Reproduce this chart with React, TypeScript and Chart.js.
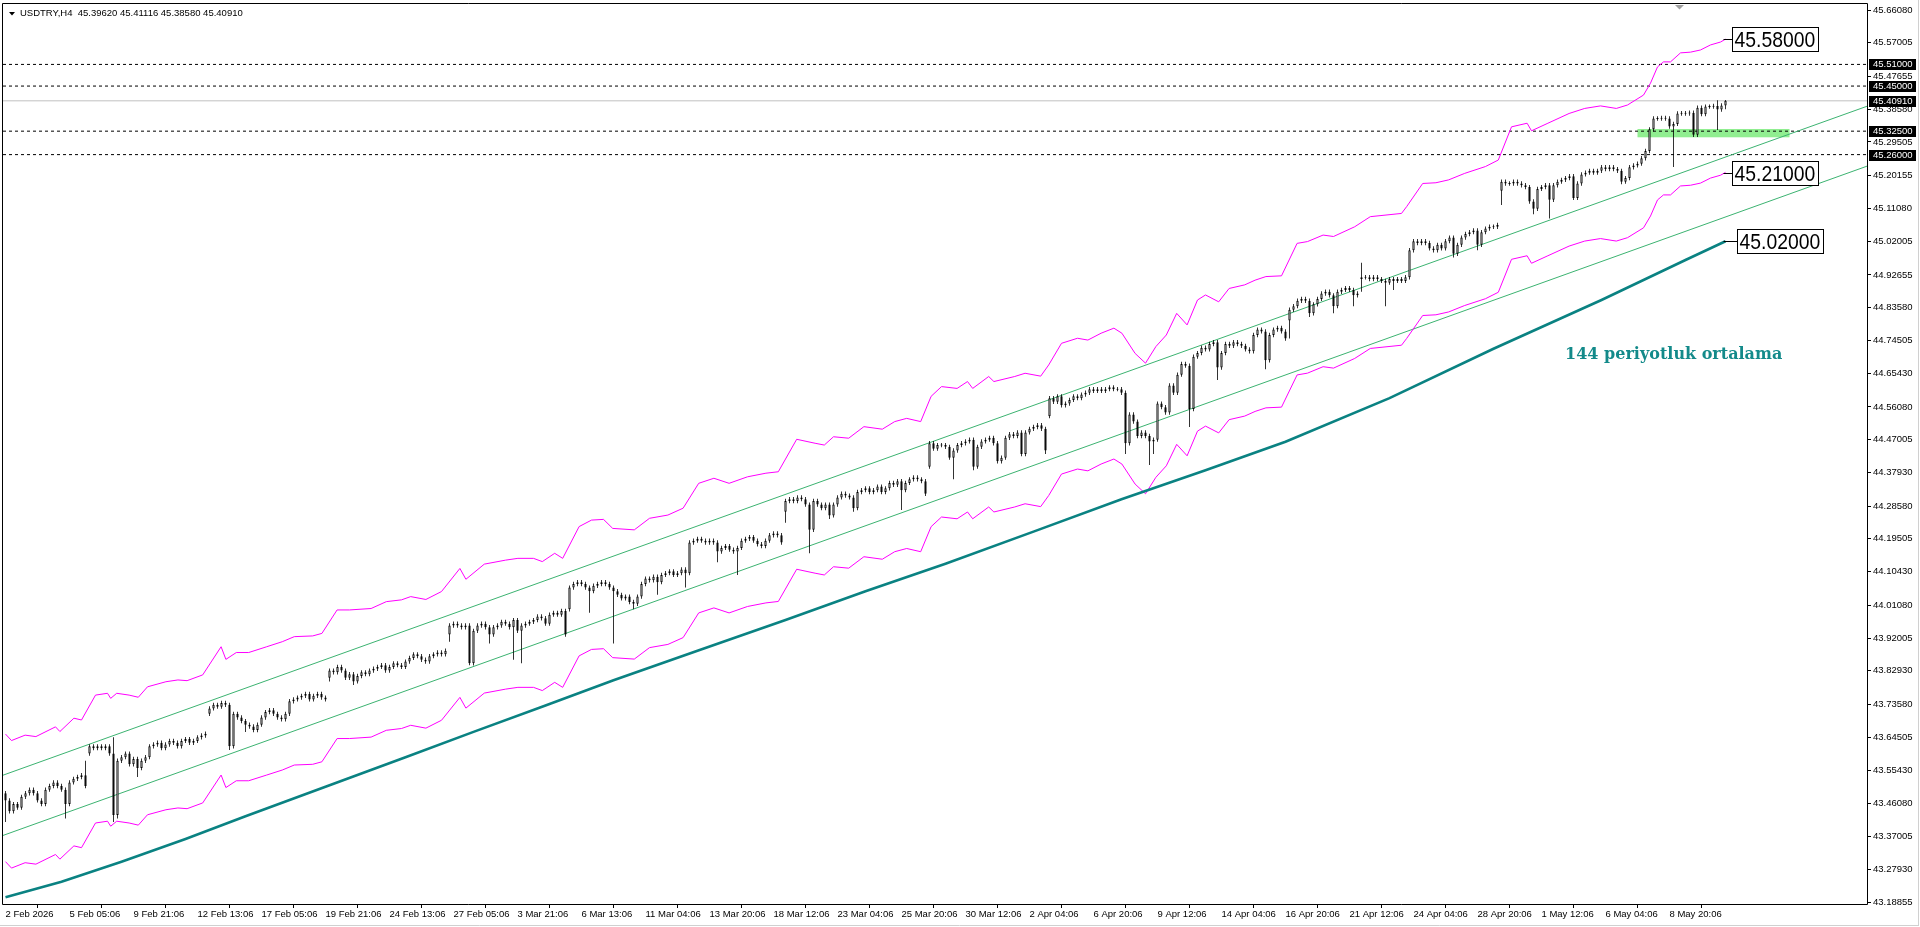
import React, { useEffect, useRef } from "react";
import { Chart, registerables } from "chart.js";

Chart.register(...registerables);

// ---------------- data ----------------
const titleText = "USDTRY,H4  45.39620 45.41116 45.38580 45.40910";

const xTickBars = [0, 16, 32, 48, 64, 80, 96, 112, 128, 144, 160, 176, 192, 208, 224, 240, 256, 272, 288, 304, 320, 336, 352, 368, 384, 400, 416];
const xTickLabels = ["2 Feb 2026", "5 Feb 05:06", "9 Feb 21:06", "12 Feb 13:06", "17 Feb 05:06", "19 Feb 21:06", "24 Feb 13:06", "27 Feb 05:06", "3 Mar 21:06", "6 Mar 13:06", "11 Mar 04:06", "13 Mar 20:06", "18 Mar 12:06", "23 Mar 04:06", "25 Mar 20:06", "30 Mar 12:06", "2 Apr 04:06", "6 Apr 20:06", "9 Apr 12:06", "14 Apr 04:06", "16 Apr 20:06", "21 Apr 12:06", "24 Apr 04:06", "28 Apr 20:06", "1 May 12:06", "6 May 04:06", "8 May 20:06"];

const yTickValues = [45.6608, 45.57005, 45.47655, 45.3858, 45.29505, 45.20155, 45.1108, 45.02005, 44.92655, 44.8358, 44.74505, 44.6543, 44.5608, 44.47005, 44.3793, 44.2858, 44.19505, 44.1043, 44.0108, 43.92005, 43.8293, 43.7358, 43.64505, 43.5543, 43.4608, 43.37005, 43.2793, 43.18855];

const firstOpen = 43.49;
const closes = [
  43.47, 43.44, 43.46, 43.45, 43.48, 43.49, 43.50, 43.49, 43.47, 43.46,
  43.50, 43.51, 43.52, 43.51, 43.50, 43.46, 43.52, 43.53, 43.535, 43.54,
  43.51, 43.62, 43.615, 43.62, 43.615, 43.62, 43.60, 43.43, 43.58, 43.59,
  43.60, 43.57, 43.585, 43.56, 43.58, 43.59, 43.62, 43.625, 43.63, 43.615,
  43.625, 43.635, 43.63, 43.62, 43.635, 43.64, 43.63, 43.635, 43.645, 43.65,
  43.655, 43.725, 43.735, 43.73, 43.74, 43.735, 43.62, 43.71, 43.70, 43.69,
  43.68, 43.675, 43.665, 43.68, 43.70, 43.715, 43.72, 43.71, 43.70, 43.695,
  43.71, 43.745, 43.75, 43.755, 43.76, 43.765, 43.75, 43.76, 43.765, 43.755,
  43.75, 43.83, 43.825, 43.84, 43.83, 43.81, 43.82, 43.80, 43.815, 43.825,
  43.82, 43.83, 43.835, 43.84, 43.845, 43.83, 43.84, 43.85, 43.845, 43.84,
  43.855, 43.865, 43.875, 43.87, 43.86, 43.855, 43.87, 43.875, 43.88, 43.875,
  43.885, 43.955, 43.96, 43.955, 43.95, 43.955, 43.85, 43.94, 43.955, 43.96,
  43.95, 43.93, 43.95, 43.955, 43.965, 43.96, 43.95, 43.97, 43.94, 43.955,
  43.96, 43.965, 43.97, 43.98, 43.975, 43.96, 43.985, 43.99, 43.985, 43.995,
  43.93, 44.06, 44.07, 44.075, 44.07, 44.06, 44.05, 44.065, 44.07, 44.075,
  44.07, 44.06, 44.05, 44.04, 44.03, 44.035, 44.02, 44.015, 44.035, 44.07,
  44.085, 44.08, 44.09, 44.075, 44.095, 44.10, 44.105, 44.095, 44.10, 44.11,
  44.10, 44.185, 44.19, 44.195, 44.19, 44.185, 44.19, 44.185, 44.16, 44.17,
  44.175, 44.165, 44.16, 44.17, 44.19, 44.195, 44.20, 44.19, 44.18, 44.175,
  44.19, 44.205, 44.21, 44.205, 44.185, 44.30, 44.305, 44.30, 44.31, 44.305,
  44.29, 44.22, 44.30, 44.29, 44.28, 44.29, 44.26, 44.29, 44.31, 44.32,
  44.315, 44.31, 44.28, 44.325, 44.33, 44.335, 44.325, 44.33, 44.34, 44.325,
  44.335, 44.35, 44.345, 44.355, 44.33, 44.35, 44.36, 44.365, 44.36, 44.355,
  44.32, 44.46, 44.445, 44.455, 44.455, 44.45, 44.42, 44.44, 44.455, 44.46,
  44.465, 44.47, 44.395, 44.45, 44.465, 44.47, 44.475, 44.46, 44.41, 44.42,
  44.475, 44.485, 44.48, 44.49, 44.43, 44.49, 44.50, 44.505, 44.51, 44.50,
  44.44, 44.585, 44.575, 44.59, 44.565, 44.57, 44.58, 44.59, 44.585, 44.595,
  44.60, 44.61, 44.605, 44.61, 44.605, 44.61, 44.615, 44.61, 44.61, 44.60,
  44.46, 44.54, 44.52, 44.48, 44.49, 44.48, 44.465, 44.47, 44.57, 44.56,
  44.545, 44.62, 44.60, 44.65, 44.68, 44.675, 44.555, 44.70, 44.71, 44.725,
  44.72, 44.735, 44.74, 44.67, 44.71, 44.735, 44.73, 44.74, 44.735, 44.73,
  44.72, 44.715, 44.76, 44.775, 44.77, 44.69, 44.76, 44.775, 44.78, 44.77,
  44.75, 44.83, 44.84, 44.855, 44.86, 44.855, 44.82, 44.845, 44.86, 44.875,
  44.88, 44.87, 44.84, 44.88, 44.885, 44.89, 44.885, 44.87, 44.875, 44.92,
  44.92, 44.915, 44.92, 44.915, 44.91, 44.905, 44.915, 44.91, 44.915, 44.91,
  44.92, 44.995, 45.02, 45.015, 45.02, 45.015, 45.00, 44.995, 45.01, 45.00,
  45.02, 45.03, 44.985, 45.01, 45.03, 45.04, 45.045, 45.05, 45.01, 45.045,
  45.055, 45.06, 45.06, 45.065, 45.185, 45.18, 45.18, 45.185, 45.18, 45.175,
  45.17, 45.13, 45.11, 45.165, 45.17, 45.175, 45.135, 45.175, 45.185, 45.19,
  45.195, 45.20, 45.14, 45.18, 45.205, 45.21, 45.215, 45.21, 45.215, 45.225,
  45.22, 45.225, 45.22, 45.215, 45.185, 45.195, 45.225, 45.23, 45.235, 45.25,
  45.27, 45.33, 45.36, 45.36, 45.362, 45.36, 45.338, 45.345, 45.374, 45.375,
  45.374, 45.376, 45.315, 45.39, 45.372, 45.393, 45.393, 45.395, 45.385, 45.3962,
  45.4091,
];

const gapOpenBars = [21, 51, 81, 111, 141, 195, 231, 261, 321, 339, 374];
const gapOpenValues = [43.60, 43.71, 43.81, 43.93, 44.00, 44.27, 44.395, 44.535, 44.80, 44.915, 45.16];

const wickLowBars = [0, 15, 27, 28, 33, 56, 60, 81, 87, 111, 116, 121, 127, 129, 146, 152, 157, 163, 170, 178, 183, 195, 201, 206, 212, 224, 237, 242, 260, 280, 286, 287, 296, 303, 315, 321, 326, 332, 337, 339, 345, 347, 362, 368, 374, 382, 386, 404, 417, 428, 430];
const wickLowValues = [43.41, 43.42, 43.41, 43.42, 43.535, 43.61, 43.66, 43.80, 43.79, 43.91, 43.845, 43.905, 43.86, 43.85, 43.99, 43.905, 44.0, 44.04, 44.06, 44.13, 44.095, 44.24, 44.155, 44.25, 44.27, 44.275, 44.36, 44.385, 44.43, 44.43, 44.40, 44.43, 44.505, 44.635, 44.665, 44.75, 44.81, 44.82, 44.84, 44.88, 44.84, 44.885, 44.975, 44.995, 45.12, 45.095, 45.083, 45.178, 45.226, 45.328, 45.3858];
const wickHighBars = [20, 27, 339, 428, 430];
const wickHighValues = [43.58, 43.645, 44.96, 45.411, 45.41116];

const maBars = [0, 14, 29, 45, 60, 80, 100, 117, 135, 152, 173, 195, 215, 235, 257, 279, 300, 320, 346, 372, 399, 420, 430];
const maValues = [43.202, 43.245, 43.300, 43.363, 43.426, 43.508, 43.590, 43.660, 43.733, 43.803, 43.885, 43.970, 44.050, 44.126, 44.215, 44.305, 44.385, 44.464, 44.585, 44.722, 44.857, 44.968, 45.02];

const envUpperBars = [0, 1.5, 4.9, 7.6, 12.5, 13.6, 17.1, 19, 22.5, 25.5, 26.3, 27.8, 30.9, 33.2, 35.5, 40.1, 43.1, 45.4, 49.3, 53.9, 55.1, 57.7, 60.8, 65.3, 69.2, 72.2, 76.8, 79.1, 82.9, 86, 91.4, 95.2, 99, 101.3, 105.1, 109, 113.6, 115.1, 119.7, 125, 128.1, 132, 134.2, 137.3, 139.3, 143.4, 146.5, 149.5, 151.8, 157.2, 161, 165.6, 169.4, 173.3, 177.1, 180.9, 185.5, 190.1, 193.2, 197.8, 202.4, 204.7, 207, 210.8, 214.6, 219.2, 222.3, 225.3, 228.8, 231.4, 234, 237.9, 240.5, 241.8, 245.8, 247.1, 252.3, 254.9, 258.8, 260.8, 264, 268, 270.6, 273.9, 277.1, 279.1, 282.4, 285, 287.6, 290.2, 292.8, 295.4, 298, 300, 303.3, 305.9, 309.8, 312.4, 315.1, 319, 322.9, 325.5, 329.4, 332, 337.3, 341.2, 349, 350.3, 354.3, 357.6, 360.8, 364.8, 370, 373.2, 376.5, 380.4, 381.5, 385.6, 390.9, 394.8, 398.75, 402.7, 405.5, 409.5, 411.25, 413, 414.5, 416.25, 418.75, 421.25, 423.75, 426.25, 428.75, 430];
const envUpperValues = [43.654, 43.636, 43.651, 43.647, 43.674, 43.661, 43.698, 43.693, 43.762, 43.767, 43.753, 43.767, 43.762, 43.756, 43.785, 43.799, 43.804, 43.802, 43.818, 43.896, 43.861, 43.880, 43.880, 43.896, 43.910, 43.924, 43.926, 43.933, 43.998, 43.998, 44.002, 44.021, 44.026, 44.035, 44.027, 44.049, 44.113, 44.083, 44.125, 44.136, 44.141, 44.141, 44.132, 44.155, 44.141, 44.229, 44.247, 44.249, 44.224, 44.220, 44.252, 44.261, 44.280, 44.349, 44.363, 44.349, 44.367, 44.377, 44.381, 44.471, 44.460, 44.455, 44.478, 44.474, 44.506, 44.499, 44.520, 44.529, 44.520, 44.590, 44.617, 44.612, 44.631, 44.612, 44.645, 44.631, 44.645, 44.654, 44.646, 44.677, 44.737, 44.751, 44.746, 44.765, 44.779, 44.765, 44.709, 44.682, 44.728, 44.760, 44.820, 44.788, 44.857, 44.871, 44.852, 44.889, 44.899, 44.912, 44.922, 44.924, 45.014, 45.019, 45.037, 45.033, 45.060, 45.088, 45.097, 45.116, 45.180, 45.182, 45.190, 45.208, 45.227, 45.245, 45.337, 45.347, 45.326, 45.347, 45.374, 45.388, 45.395, 45.388, 45.3975, 45.425, 45.458, 45.503, 45.517, 45.517, 45.542, 45.544, 45.550, 45.564, 45.572, 45.580];
const envelopeBandFraction = 0.0081; // lower band sits this fraction below the upper band

const channelBars = [-0.625, 465.375];
const channelUpper = [43.540, 45.394];
const channelLower = [43.373, 45.228];

const dashedLevels = [45.51, 45.45, 45.325, 45.26];
const lastPrice = 45.4091;
const axisMarks = [45.51, 45.45, 45.4091, 45.325, 45.26];

const zoneBars = [408, 446];
const zonePrices = [45.308, 45.331];

const calloutValues = [45.58, 45.21, 45.02];
const calloutFromBars = [429.5, 429.5, 429.5];
const calloutBoxBars = [431.6, 431.6, 432.9];
const calloutTexts = ["45.58000", "45.21000", "45.02000"];

const maNote = "144 periyotluk ortalama";
const maNoteBar = 389.9;
const maNotePrice = 44.705;

// ---------------- layout constants ----------------
const X_MIN = -0.625;
const X_MAX = 465.375;
const Y_MIN = 43.18301;
const Y_MAX = 45.67743;
const FONT = "'Liberation Sans', Arial, sans-serif";
const DEFAULT_WICK = 0.006;
const MIN_BODY = 0.0028;

const opens = closes.map((c, i) => {
  const g = gapOpenBars.indexOf(i);
  if (g >= 0) return gapOpenValues[g];
  return i === 0 ? firstOpen : closes[i - 1];
});
const highs = closes.map((c, i) => {
  const k = wickHighBars.indexOf(i);
  return k >= 0 ? wickHighValues[k] : Math.max(opens[i], c) + DEFAULT_WICK;
});
const lows = closes.map((c, i) => {
  const k = wickLowBars.indexOf(i);
  return k >= 0 ? wickLowValues[k] : Math.min(opens[i], c) - DEFAULT_WICK;
});

const bodyData = closes.map((c, i) => {
  let lo = Math.min(opens[i], c);
  let hi = Math.max(opens[i], c);
  if (hi - lo < MIN_BODY) {
    const m = (hi + lo) / 2;
    lo = m - MIN_BODY / 2;
    hi = m + MIN_BODY / 2;
  }
  return { x: i, y: [lo, hi] };
});
const wickData = closes.map((c, i) => ({ x: i, y: [lows[i], highs[i]] }));
const maData = maBars.map((b, i) => ({ x: b, y: maValues[i] }));
const envUpperData = envUpperBars.map((b, i) => ({ x: b, y: envUpperValues[i] }));
const envLowerData = envUpperBars.map((b, i) => ({ x: b, y: envUpperValues[i] * (1 - envelopeBandFraction) }));

const hLine = (v: number) => [{ x: X_MIN, y: v }, { x: X_MAX, y: v }];

const overlayPlugin = {
  id: "mtOverlay",
  beforeDraw(chart: any) {
    const ctx = chart.ctx;
    ctx.save();
    ctx.fillStyle = "#ffffff";
    ctx.fillRect(0, 0, chart.width, chart.height);
    ctx.restore();
  },
  beforeDatasetsDraw(chart: any) {
    const { ctx, scales } = chart;
    const x = scales.x, y = scales.y;
    ctx.save();
    ctx.fillStyle = "#90EE90";
    const x0 = x.getPixelForValue(zoneBars[0]);
    const x1 = x.getPixelForValue(zoneBars[1]);
    const y0 = y.getPixelForValue(zonePrices[1]);
    const y1 = y.getPixelForValue(zonePrices[0]);
    ctx.fillRect(x0, y0, x1 - x0, y1 - y0);
    ctx.restore();
  },
  afterDatasetsDraw(chart: any) {
    const { ctx, scales } = chart;
    const x = scales.x, y = scales.y;
    ctx.save();
    calloutValues.forEach((v, i) => {
      const yp = Math.round(y.getPixelForValue(v)) + 0.5;
      const xf = x.getPixelForValue(calloutFromBars[i]);
      const xb = Math.round(x.getPixelForValue(calloutBoxBars[i])) + 0.5;
      ctx.strokeStyle = "#000";
      ctx.lineWidth = 1;
      ctx.beginPath();
      ctx.moveTo(xf, yp);
      ctx.lineTo(xb, yp);
      ctx.stroke();
      ctx.fillStyle = "#fff";
      ctx.fillRect(xb, yp - 12, 86, 24);
      ctx.strokeRect(xb, yp - 12, 86, 24);
      ctx.save();
      ctx.translate(xb + 2, yp + 1);
      ctx.scale(0.88, 1);
      ctx.fillStyle = "#000";
      ctx.font = `22px ${FONT}`;
      ctx.textBaseline = "middle";
      ctx.textAlign = "left";
      ctx.fillText(calloutTexts[i], 0, 0);
      ctx.restore();
    });
    ctx.fillStyle = "#138a8a";
    ctx.font = "bold 16px 'DejaVu Serif', serif";
    ctx.textBaseline = "middle";
    ctx.textAlign = "left";
    ctx.fillText(maNote, x.getPixelForValue(maNoteBar), y.getPixelForValue(maNotePrice));
    ctx.restore();
  },
  afterDraw(chart: any) {
    const { ctx, scales, chartArea } = chart;
    const y = scales.y;
    ctx.save();
    ctx.strokeStyle = "#000";
    ctx.lineWidth = 1;
    ctx.beginPath();
    ctx.moveTo(chartArea.left - 0.5, chartArea.top - 0.5);
    ctx.lineTo(chartArea.right + 0.5, chartArea.top - 0.5);
    ctx.lineTo(chartArea.right + 0.5, chartArea.bottom + 0.5);
    ctx.lineTo(chartArea.left - 0.5, chartArea.bottom + 0.5);
    ctx.closePath();
    ctx.stroke();
    ctx.strokeStyle = "#d0d0d0";
    ctx.beginPath();
    ctx.moveTo(1918.5, 0);
    ctx.lineTo(1918.5, 926);
    ctx.moveTo(0, 925.5);
    ctx.lineTo(1919, 925.5);
    ctx.stroke();
    ctx.font = `9.5px ${FONT}`;
    ctx.textBaseline = "middle";
    ctx.textAlign = "left";
    axisMarks.forEach((v) => {
      const yp = Math.round(y.getPixelForValue(v));
      ctx.fillStyle = "#000";
      ctx.fillRect(chartArea.right + 2, yp - 5, 47, 11);
      ctx.fillStyle = "#fff";
      ctx.fillText(v.toFixed(5), chartArea.right + 6, yp + 0.5);
    });
    ctx.fillStyle = "#000";
    ctx.beginPath();
    ctx.moveTo(9, 12);
    ctx.lineTo(15, 12);
    ctx.lineTo(12, 15.5);
    ctx.closePath();
    ctx.fill();
    ctx.font = `9.5px ${FONT}`;
    ctx.textBaseline = "alphabetic";
    ctx.fillText(titleText, 20, 16);
    ctx.fillStyle = "#a0a0a0";
    ctx.beginPath();
    ctx.moveTo(1675, 5);
    ctx.lineTo(1684, 5);
    ctx.lineTo(1679.5, 9.5);
    ctx.closePath();
    ctx.fill();
    ctx.restore();
  },
};

export default function App() {
  const ref = useRef<HTMLCanvasElement | null>(null);

  useEffect(() => {
    document.body.style.margin = "0";
    const canvas = ref.current;
    if (!canvas) return;
    const lineBase = { type: "line", pointRadius: 0, tension: 0, fill: false };
    const chart = new Chart(canvas, {
      type: "bar",
      data: {
        datasets: [
          {
            type: "bar",
            label: "body",
            data: bodyData,
            backgroundColor: (c: any) => {
              const i = c.dataIndex;
              if (i === undefined) return "#fff";
              return closes[i] >= opens[i] ? "#ffffff" : "#000000";
            },
            borderColor: "#000000",
            borderWidth: 1,
            borderSkipped: false,
            grouped: false,
            barPercentage: 0.75,
            maxBarThickness: 3,
            inflateAmount: 0,
            order: 0,
          },
          {
            type: "bar",
            label: "wick",
            data: wickData,
            backgroundColor: "#000000",
            borderWidth: 0,
            grouped: false,
            barPercentage: 0.25,
            maxBarThickness: 1,
            inflateAmount: 0,
            order: 1,
          },
          { ...lineBase, label: "MA144", data: maData, borderColor: "#0a8282", borderWidth: 2.6, order: 3 },
          { ...lineBase, label: "envUpper", data: envUpperData, borderColor: "#ff00ff", borderWidth: 1, order: 3 },
          { ...lineBase, label: "envLower", data: envLowerData, borderColor: "#ff00ff", borderWidth: 1, order: 3 },
          { ...lineBase, label: "chanUpper", data: channelBars.map((b, i) => ({ x: b, y: channelUpper[i] })), borderColor: "#3cb371", borderWidth: 1, order: 4 },
          { ...lineBase, label: "chanLower", data: channelBars.map((b, i) => ({ x: b, y: channelLower[i] })), borderColor: "#3cb371", borderWidth: 1, order: 4 },
          ...dashedLevels.map((v) => ({ ...lineBase, label: "lvl" + v, data: hLine(v), borderColor: "#000000", borderWidth: 1, borderDash: [3, 3], order: 5 })),
          { ...lineBase, label: "last", data: hLine(lastPrice), borderColor: "#c0c0c0", borderWidth: 1, order: 6 },
        ] as any,
      },
      options: {
        responsive: false,
        maintainAspectRatio: false,
        animation: false,
        devicePixelRatio: 1,
        events: [],
        layout: { padding: { left: 3, top: 4, right: 0, bottom: 0 }, autoPadding: false },
        plugins: { legend: { display: false }, tooltip: { enabled: false } },
        scales: {
          x: {
            type: "linear",
            min: X_MIN,
            max: X_MAX,
            offset: false,
            border: { display: false },
            grid: { display: true, drawOnChartArea: false, drawTicks: true, tickLength: 4, color: "#000", lineWidth: 1 },
            ticks: {
              autoSkip: false,
              maxRotation: 0,
              minRotation: 0,
              align: "start",
              padding: 1,
              color: "#000",
              font: { size: 9.5, family: FONT },
              callback: (_v: any, idx: number) => xTickLabels[idx] ?? "",
            },
            afterBuildTicks: (s: any) => {
              s.ticks = xTickBars.map((v) => ({ value: v }));
            },
            afterFit: (s: any) => {
              s.height = 23;
              s.paddingLeft = 0;
              s.paddingRight = 0;
            },
          },
          y: {
            type: "linear",
            position: "right",
            min: Y_MIN,
            max: Y_MAX,
            border: { display: false },
            grid: { display: true, drawOnChartArea: false, drawTicks: true, tickLength: 4, color: "#000", lineWidth: 1 },
            ticks: {
              autoSkip: false,
              padding: 2,
              color: "#000",
              font: { size: 9.5, family: FONT },
              callback: (v: any) => Number(v).toFixed(5),
            },
            afterBuildTicks: (s: any) => {
              s.ticks = yTickValues.map((v) => ({ value: v }));
            },
            afterFit: (s: any) => {
              s.width = 53;
              s.paddingTop = 0;
              s.paddingBottom = 0;
            },
          },
        },
      } as any,
      plugins: [overlayPlugin],
    } as any);
    return () => chart.destroy();
  }, []);

  return (
    <div style={{ width: 1920, height: 927, background: "#fff" }}>
      <canvas ref={ref} width={1920} height={927} style={{ display: "block", width: 1920, height: 927 }} />
    </div>
  );
}
